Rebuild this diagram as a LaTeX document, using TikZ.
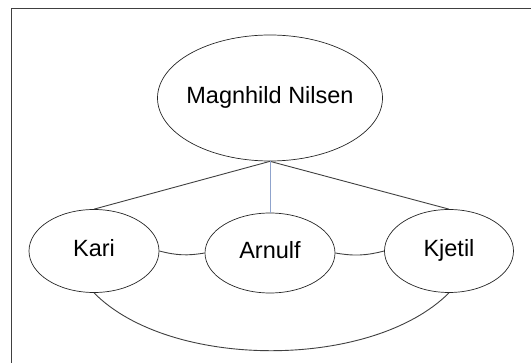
\documentclass[tikz,border=0pt]{standalone}
\usepackage{fontspec}
\setmainfont{Liberation Sans}
\usetikzlibrary{shapes}
\definecolor{linegray}{HTML}{404040}
\definecolor{lineblue}{HTML}{8FA3CC}

\begin{document}
\begin{tikzpicture}[x=1pt, y=-1pt,
    person/.style={ellipse, draw=black!85, line width=0.7pt, inner sep=0pt,
      text height=16pt, text depth=5pt, font=\fontsize{23.5}{28}\selectfont},
    link/.style={draw=linegray, line width=0.9pt}]
    \useasboundingbox (0,0) rectangle (531,363);
    % frame of the page
    \draw[line width=0.8pt, black!75] (11,363) -- (11,8) -- (531,8);
    \begin{scope}
      % Mother
      \node(magnhild)[person, inner xsep=-40pt, minimum width=225pt, minimum height=126pt] at (270,98) {Magnhild Nilsen};
    \end{scope}
    \begin{scope}
      % Children
      \node(kari)  [person, minimum width=130pt, minimum height=83pt] at (94,251) {Kari};
      \node(arnulf)[person, minimum width=130pt, minimum height=80pt] at (270,253) {Arnulf};
      \node(kjetil)[person, minimum width=129pt, minimum height=83pt] at (449,251) {Kjetil};
    \end{scope}
    \path (magnhild.south) edge[link] (kari.north);
    \path (magnhild.south) edge[link] (kjetil.north);
    \path (magnhild.south) edge[draw=lineblue, line width=0.9pt] (arnulf.north);
    \path (kari.east)   edge[link, bend right=12] (arnulf.west);
    \path (arnulf.east) edge[link, bend right=12] (kjetil.west);
    \draw[link] (kari.south) .. controls (170,370) and (372,370) .. (kjetil.south);
  \end{tikzpicture}
\end{document}
